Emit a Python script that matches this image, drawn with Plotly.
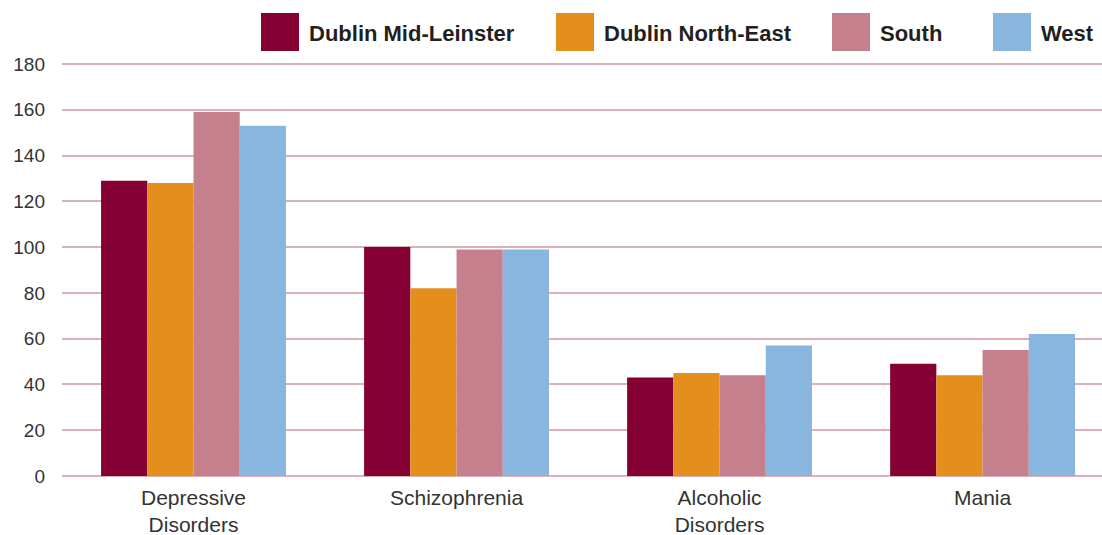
import plotly.graph_objects as go

categories = ["Depressive<br>Disorders", "Schizophrenia", "Alcoholic<br>Disorders", "Mania"]
series_names = ["Dublin Mid-Leinster", "Dublin North-East", "South", "West"]
dublin_mid_leinster = [129, 100, 43, 49]
dublin_north_east = [128, 82, 45, 44]
south = [159, 99, 44, 55]
west = [153, 99, 57, 62]
colors = ["#850033", "#E48E1C", "#C4808C", "#88B6DE"]
y_ticks = [0, 20, 40, 60, 80, 100, 120, 140, 160, 180]

series_values = [dublin_mid_leinster, dublin_north_east, south, west]

W, H = 1102, 535
L, R, T, B = 62, 0, 62, 59
PW, PH = W - L - R, H - T - B
PX_PER_UNIT = 412 / 180
Y_MAX = PH / PX_PER_UNIT

FONT = "Liberation Sans, Arial, sans-serif"

fig = go.Figure()
for name, vals, col in zip(series_names, series_values, colors):
    fig.add_trace(go.Bar(x=categories, y=vals, name=name,
                         marker=dict(color=col, line=dict(width=0)), showlegend=False))

# custom legend: large square swatches with bold labels
legend_sw_x = [261, 556, 832, 993]
shapes = []
for lx, name, col in zip(legend_sw_x, series_names, colors):
    shapes.append(dict(type="rect", xref="paper", yref="paper",
                       x0=(lx - L) / PW, x1=(lx + 38 - L) / PW,
                       y0=(H - B - 51) / PH, y1=(H - B - 13) / PH,
                       fillcolor=col, line=dict(width=0), layer="above"))
    fig.add_annotation(xref="paper", yref="paper",
                       x=(lx + 46 - L) / PW, y=(H - B - 34) / PH,
                       text="<b>" + name + "</b>", showarrow=False,
                       xanchor="left", yanchor="middle",
                       font=dict(family=FONT, size=22, color="#231f20"))
fig.update_layout(shapes=shapes)

fig.update_layout(
    width=W, height=H,
    margin=dict(l=L, r=R, t=T, b=B, autoexpand=False),
    paper_bgcolor="white", plot_bgcolor="white",
    barmode="group", bargap=0.297, bargroupgap=0,
    font=dict(family=FONT, color="#333333"),
    showlegend=False,
)
fig.update_xaxes(range=[-0.5, 3.454], showgrid=False, showline=False, ticks="",
                 ticklabelstandoff=7,
                 tickfont=dict(size=21, color="#333333"), zeroline=False)
fig.update_yaxes(range=[0, Y_MAX], tickvals=y_ticks, showgrid=True,
                 gridcolor="#DDB0B9", gridwidth=1.5,
                 zeroline=True, zerolinecolor="#DDB0B9", zerolinewidth=1.5, showline=False,
                 ticks="", ticklabelstandoff=16, tickfont=dict(size=19, color="#333333"))

fig.write_html("out.html", config={"displayModeBar": False},
               post_script="document.body.style.margin='0';document.body.style.overflow='hidden';")
